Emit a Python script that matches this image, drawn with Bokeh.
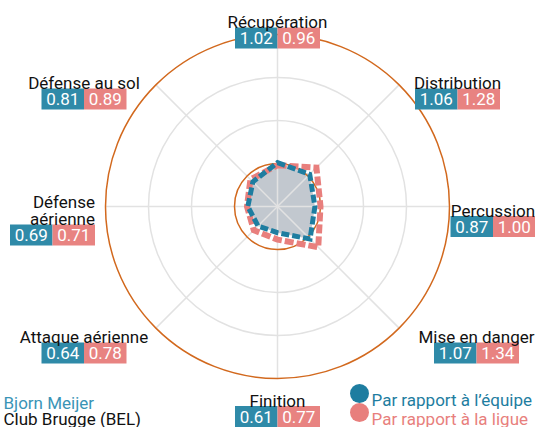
import numpy as np
from bokeh.plotting import figure
from bokeh.models import Range1d, ColumnDataSource
from bokeh.core.properties import value
from bokeh.embed import file_html
from bokeh.resources import INLINE

# ---------------- data ----------------
categories = ["Récupération", "Distribution", "Percussion", "Mise en danger",
              "Finition", "Attaque aérienne", "Défense\naérienne", "Défense au sol"]
equipe = [1.02, 1.06, 0.87, 1.07, 0.61, 0.64, 0.69, 0.81]
ligue = [0.96, 1.28, 1.00, 1.34, 0.77, 0.78, 0.71, 0.89]
rings = [1, 2, 3, 4]
orange_rings = [1, 4]
player = "Bjorn Meijer"
club = "Club Brugge (BEL)"
legend_labels = ["Par rapport à l’équipe", "Par rapport à la ligue"]

# ---------------- style / layout ----------------
FONT = value("Roboto")
SCALE = 43.0  # px per unit
BLUE_BOX = "#2f8aa8"
RED_BOX = "#e88381"
BLUE_LINE = "#1e7da0"
RED_LINE = "#e87f7d"
ORANGE = "#d2691e"
GRID = "#e2e2e2"
FS = "17px"
BOX_W, BOX_H = 42.5, 21

W, H = 535, 427
CX, CY = 277, 206  # radar centre in figure pixels (from top-left)

# centre of the value-box pair for each axis, relative to the radar centre (px, y up)
label_offsets = [(0, 168.5), (180, 107.5), (215.5, -20), (199, -146.5),
                 (0, -210), (-193.5, -146.5), (-225, -28.5), (-193.5, 107.5)]
label_align = ["center"] * 6 + ["right", "center"]

n = len(categories)
theta = np.pi / 2 - np.arange(n) * 2 * np.pi / n

p = figure(width=W, height=H, output_backend="svg", toolbar_location=None,
           x_range=Range1d(-CX, W - CX), y_range=Range1d(CY - H, CY),
           min_border=0, outline_line_color=None)
p.axis.visible = False
p.grid.visible = False
p.background_fill_color = "white"
p.border_fill_color = "white"


def fx(px):
    return px - CX


def fy(py):
    return CY - py


# polygon coordinates
ex = [v * SCALE * np.cos(t) for v, t in zip(equipe, theta)]
ey = [v * SCALE * np.sin(t) for v, t in zip(equipe, theta)]
lx = [v * SCALE * np.cos(t) for v, t in zip(ligue, theta)]
ly = [v * SCALE * np.sin(t) for v, t in zip(ligue, theta)]
p.patch(ex, ey, fill_color="#aeb5bf", fill_alpha=0.75, line_color=None)

# grid rings and spokes
Rmax = max(rings) * SCALE
for r in rings:
    if r not in orange_rings:
        p.circle(x=0, y=0, radius=r * SCALE, fill_color=None, line_color=GRID, line_width=1.5)
p.segment(x0=[0] * n, y0=[0] * n, x1=list(Rmax * np.cos(theta)), y1=list(Rmax * np.sin(theta)),
          line_color=GRID, line_width=1.5)
for r in orange_rings:
    p.circle(x=0, y=0, radius=r * SCALE, fill_color=None, line_color=ORANGE, line_width=1.5)

# dashed outlines
p.patch(lx, ly, fill_alpha=0, line_color=RED_LINE, line_width=6, line_dash="9 3", line_join="miter")
p.patch(ex, ey, fill_alpha=0, line_color=BLUE_LINE, line_width=5, line_dash="8 3", line_join="miter")

# labels with value boxes
bx, by, rx, txt_b, txt_r = [], [], [], [], []
lab_x, lab_y, lab_t, lab_a = [], [], [], []
for i, (cat, (dx, dy)) in enumerate(zip(categories, label_offsets)):
    bx.append(dx - BOX_W / 2)
    rx.append(dx + BOX_W / 2)
    by.append(dy)
    txt_b.append(f"{equipe[i]:.2f}")
    txt_r.append(f"{ligue[i]:.2f}")
    lines = cat.split("\n")
    base = dy + 16
    for k, ln in enumerate(lines):
        lab_y.append(base + (len(lines) - 1 - k) * 17)
        lab_t.append(ln)
        lab_x.append(dx + BOX_W if label_align[i] == "right" else dx)
        lab_a.append(label_align[i])

p.rect(x=bx, y=by, width=BOX_W, height=BOX_H, fill_color=BLUE_BOX, line_color=None)
p.rect(x=rx, y=by, width=BOX_W, height=BOX_H, fill_color=RED_BOX, line_color=None)
p.text(x=bx, y=by, text=txt_b, text_color="white", text_font=FONT, text_font_size=FS,
       text_align="center", text_baseline="middle")
p.text(x=rx, y=by, text=txt_r, text_color="white", text_font=FONT, text_font_size=FS,
       text_align="center", text_baseline="middle")
src = ColumnDataSource(dict(x=lab_x, y=lab_y, t=lab_t, a=lab_a))
p.text(x="x", y="y", text="t", text_align="a", source=src, text_color="#111111",
       text_font=FONT, text_font_size=FS, text_baseline="alphabetic")

# player / club caption (bottom left)
p.text(x=[fx(3)], y=[fy(402)], text=[player], text_color="#3a94b6", text_font=FONT,
       text_font_size=FS, text_baseline="alphabetic")
p.text(x=[fx(3)], y=[fy(418)], text=[club], text_color="#111111", text_font=FONT,
       text_font_size=FS, text_baseline="alphabetic")

# legend (bottom right)
leg_cols = [BLUE_LINE, RED_LINE]
p.scatter(x=[fx(359)] * 2, y=[fy(393), fy(412)], size=19, marker="circle",
          fill_color=leg_cols, line_color=None)
p.text(x=[fx(371)] * 2, y=[fy(399), fy(418)], text=legend_labels, text_color=leg_cols,
       text_font=FONT, text_font_size=FS, text_baseline="alphabetic")

open("out.html", "w").write(file_html(p, INLINE))
